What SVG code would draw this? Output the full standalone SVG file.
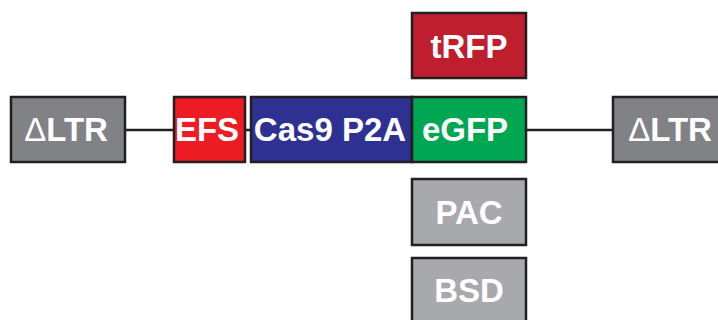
<svg xmlns="http://www.w3.org/2000/svg" width="718" height="320" viewBox="0 0 718 320">
<style>
.b{stroke:#231f20;stroke-width:2.5}
.t{font-family:"Liberation Sans",Arial,sans-serif;font-weight:bold;font-size:33px;fill:#ffffff;text-anchor:middle}
.d{font-weight:normal}
.c{stroke:#231f20;stroke-width:2.5;fill:none}
</style>
<rect width="718" height="320" fill="#ffffff"/>
<g id="connectors">
<line class="c" x1="125" y1="130" x2="173" y2="130"/>
<line class="c" x1="245" y1="130" x2="250" y2="130"/>
<line class="c" x1="527" y1="130" x2="612" y2="130"/>
</g>
<g id="ltr-left"><rect class="b" x="11" y="97" width="114" height="65" fill="#808285"/><text class="t" x="66" y="141"><tspan class="d">Δ</tspan>LTR</text></g>
<g id="efs"><rect class="b" x="174" y="97" width="71" height="65" fill="#ed1c24"/><text class="t" x="207" y="141">EFS</text></g>
<g id="cas9"><rect class="b" x="251" y="97" width="161" height="65" fill="#2e3192"/><text class="t" x="330" y="141">Cas9 P2A</text></g>
<g id="egfp"><rect class="b" x="412" y="97" width="114" height="65" fill="#00a651"/><text class="t" x="465" y="141">eGFP</text></g>
<g id="trfp"><rect class="b" x="412" y="13" width="114" height="65" fill="#be1e2d"/><text class="t" x="469" y="58">tRFP</text></g>
<g id="pac"><rect class="b" x="412" y="179" width="114" height="66" fill="#a7a9ac"/><text class="t" x="469" y="224">PAC</text></g>
<g id="bsd"><rect class="b" x="412" y="258" width="114" height="70" fill="#a7a9ac"/><text class="t" x="469" y="302">BSD</text></g>
<g id="ltr-right"><rect class="b" x="613" y="97" width="114" height="65" fill="#808285"/><text class="t" x="670" y="141"><tspan class="d">Δ</tspan>LTR</text></g>
</svg>
